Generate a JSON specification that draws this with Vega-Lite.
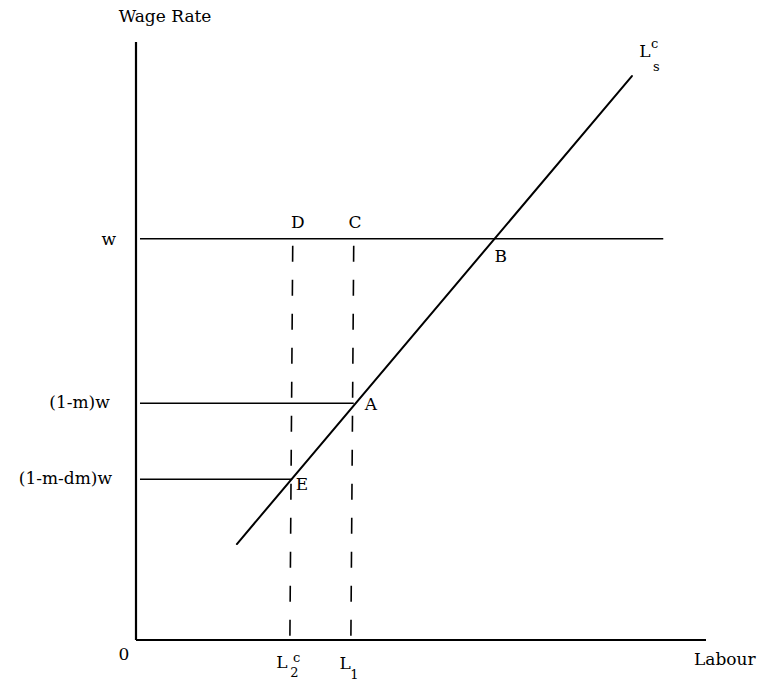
{
  "$schema": "https://vega.github.io/schema/vega-lite/v6.json",
  "width": 570,
  "height": 598,
  "autosize": "none",
  "padding": {"left": 136, "top": 42, "right": 56, "bottom": 41},
  "background": "white",
  "config": {"view": {"stroke": null}, "text": {"font": "DejaVu Serif", "color": "black"}},
  "datasets": {
    "segments": [
      {"kind": "axis", "x": 0, "y": 0, "x2": 0, "y2": 100},
      {"kind": "axis", "x": 0, "y": 0, "x2": 100, "y2": 0},
      {"kind": "solid", "x": 0.7, "y": 67.1, "x2": 92.5, "y2": 67.1},
      {"kind": "solid", "x": 0.7, "y": 39.6, "x2": 38.2, "y2": 39.6},
      {"kind": "solid", "x": 0.7, "y": 26.9, "x2": 27.4, "y2": 26.9},
      {"kind": "dashed", "x": 27.5, "y": 66.6, "x2": 27.0, "y2": 0.3},
      {"kind": "dashed", "x": 38.2, "y": 66.6, "x2": 37.7, "y2": 0.3},
      {"kind": "supply", "x": 17.7, "y": 16.05, "x2": 87.0, "y2": 94.3}
    ],
    "labels": [
      {"text": "Wage Rate", "x": 5.1, "y": 104.2, "role": "main"},
      {"text": "D", "x": 28.4, "y": 69.7, "role": "main"},
      {"text": "C", "x": 38.4, "y": 69.7, "role": "main"},
      {"text": "B", "x": 64.0, "y": 64.0, "role": "main"},
      {"text": "A", "x": 41.2, "y": 39.3, "role": "main"},
      {"text": "E", "x": 29.1, "y": 25.9, "role": "main"},
      {"text": "0", "x": -2.1, "y": -2.5, "role": "main"},
      {"text": "Labour", "x": 103.3, "y": -3.3, "role": "main"},
      {"text": "L", "x": 25.6, "y": -3.8, "role": "main"},
      {"text": "L", "x": 36.7, "y": -4.0, "role": "main"},
      {"text": "L", "x": 89.3, "y": 98.3, "role": "main"},
      {"text": "c", "x": 28.2, "y": -3.0, "role": "small"},
      {"text": "2", "x": 27.8, "y": -5.6, "role": "small"},
      {"text": "1", "x": 38.3, "y": -5.8, "role": "small"},
      {"text": "c", "x": 91.0, "y": 99.6, "role": "small"},
      {"text": "s", "x": 91.3, "y": 95.9, "role": "small"},
      {"text": "w", "x": -3.5, "y": 66.9, "role": "left"},
      {"text": "(1-m)w", "x": -4.6, "y": 39.6, "role": "left"},
      {"text": "(1-m-dm)w", "x": -4.2, "y": 26.9, "role": "left"}
    ]
  },
  "layer": [
    {
      "data": {"name": "segments"},
      "transform": [{"filter": "datum.kind === 'axis'"}],
      "mark": {"type": "rule", "strokeWidth": 2.2, "color": "black"},
      "encoding": {
        "x": {"field": "x", "type": "quantitative", "scale": {"domain": [0, 100]}, "axis": null},
        "y": {"field": "y", "type": "quantitative", "scale": {"domain": [0, 100]}, "axis": null},
        "x2": {"field": "x2"},
        "y2": {"field": "y2"}
      }
    },
    {
      "data": {"name": "segments"},
      "transform": [{"filter": "datum.kind === 'solid'"}],
      "mark": {"type": "rule", "strokeWidth": 1.5, "color": "black"},
      "encoding": {
        "x": {"field": "x", "type": "quantitative", "scale": {"domain": [0, 100]}, "axis": null},
        "y": {"field": "y", "type": "quantitative", "scale": {"domain": [0, 100]}, "axis": null},
        "x2": {"field": "x2"},
        "y2": {"field": "y2"}
      }
    },
    {
      "data": {"name": "segments"},
      "transform": [{"filter": "datum.kind === 'dashed'"}],
      "mark": {"type": "rule", "strokeWidth": 1.6, "color": "black", "strokeDash": [16, 18], "strokeDashOffset": -4},
      "encoding": {
        "x": {"field": "x", "type": "quantitative", "scale": {"domain": [0, 100]}, "axis": null},
        "y": {"field": "y", "type": "quantitative", "scale": {"domain": [0, 100]}, "axis": null},
        "x2": {"field": "x2"},
        "y2": {"field": "y2"}
      }
    },
    {
      "data": {"name": "segments"},
      "transform": [{"filter": "datum.kind === 'supply'"}],
      "mark": {"type": "rule", "strokeWidth": 2, "color": "black", "strokeCap": "round"},
      "encoding": {
        "x": {"field": "x", "type": "quantitative", "scale": {"domain": [0, 100]}, "axis": null},
        "y": {"field": "y", "type": "quantitative", "scale": {"domain": [0, 100]}, "axis": null},
        "x2": {"field": "x2"},
        "y2": {"field": "y2"}
      }
    },
    {
      "data": {"name": "labels"},
      "transform": [{"filter": "datum.role === 'main'"}],
      "mark": {"type": "text", "fontSize": 17, "align": "center", "baseline": "middle"},
      "encoding": {
        "x": {"field": "x", "type": "quantitative", "scale": {"domain": [0, 100]}, "axis": null},
        "y": {"field": "y", "type": "quantitative", "scale": {"domain": [0, 100]}, "axis": null},
        "text": {"field": "text"}
      }
    },
    {
      "data": {"name": "labels"},
      "transform": [{"filter": "datum.role === 'small'"}],
      "mark": {"type": "text", "fontSize": 13, "align": "center", "baseline": "middle"},
      "encoding": {
        "x": {"field": "x", "type": "quantitative", "scale": {"domain": [0, 100]}, "axis": null},
        "y": {"field": "y", "type": "quantitative", "scale": {"domain": [0, 100]}, "axis": null},
        "text": {"field": "text"}
      }
    },
    {
      "data": {"name": "labels"},
      "transform": [{"filter": "datum.role === 'left'"}],
      "mark": {"type": "text", "fontSize": 17, "align": "right", "baseline": "middle"},
      "encoding": {
        "x": {"field": "x", "type": "quantitative", "scale": {"domain": [0, 100]}, "axis": null},
        "y": {"field": "y", "type": "quantitative", "scale": {"domain": [0, 100]}, "axis": null},
        "text": {"field": "text"}
      }
    }
  ]
}
